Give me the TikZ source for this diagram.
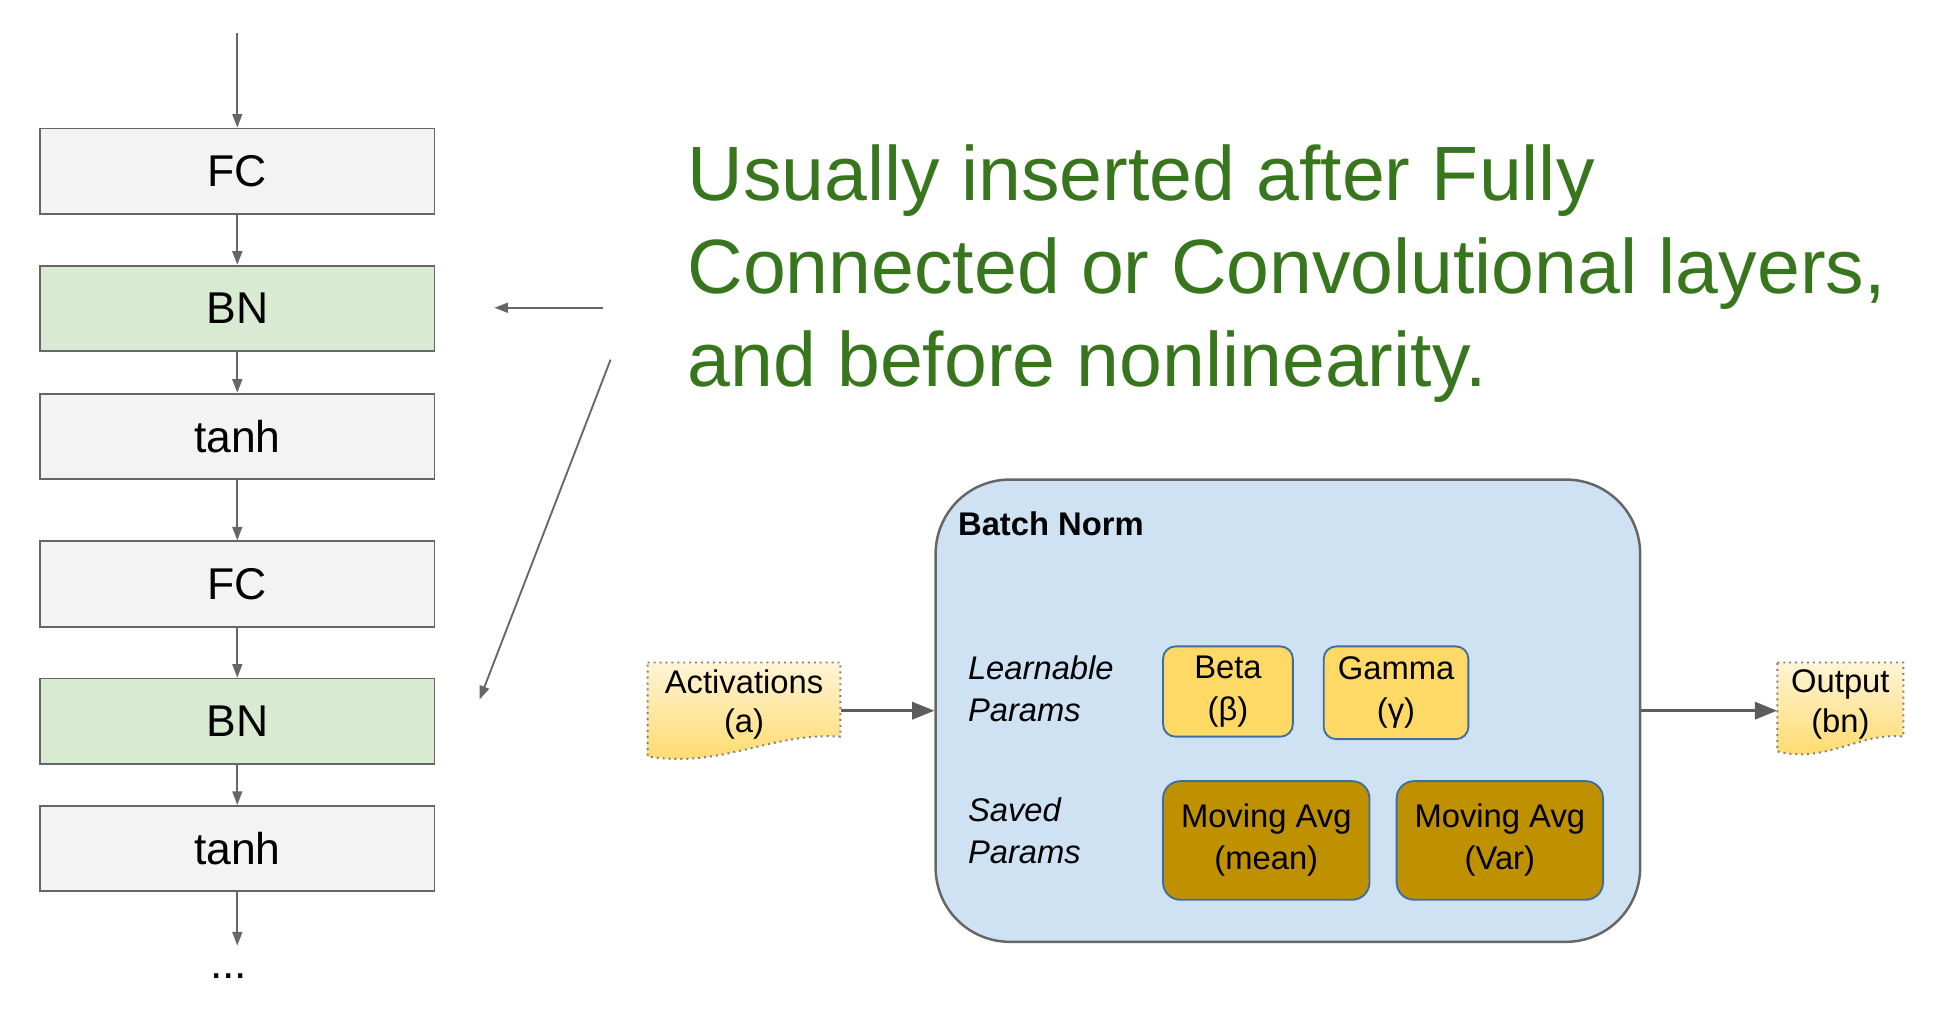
\documentclass[tikz,border=0pt]{standalone}
\usepackage{fontspec}
\setmainfont{Liberation Sans}
\usetikzlibrary{arrows.meta,positioning,calc}

\definecolor{boxgray}{HTML}{F3F3F3}
\definecolor{bngreen}{HTML}{D9EAD3}
\definecolor{linegray}{HTML}{666666}
\definecolor{textgreen}{HTML}{38761D}
\definecolor{bnblue}{HTML}{CFE2F3}
\definecolor{paramyellow}{HTML}{FFD966}
\definecolor{docpale}{HTML}{FFF4D6}
\definecolor{savedgold}{HTML}{BF9000}
\definecolor{paramedge}{HTML}{3D6E9E}
\definecolor{docedge}{HTML}{808080}

\tikzset{
  layer/.style={draw=linegray, line width=1.5pt, fill=boxgray, minimum width=319pt,
    minimum height=69pt, inner sep=0pt, font=\fontsize{36}{40}\selectfont},
  bnlayer/.style={layer, fill=bngreen},
  flow/.style={draw=linegray, line width=1.5pt, -{Triangle[length=11pt,width=8pt]}},
  feed/.style={draw=linegray!90!black, line width=2pt, -{Triangle[length=18pt,width=14pt]}},
  param/.style={draw=paramedge, line width=1.5pt, rounded corners=10pt, fill=paramyellow,
    align=center, inner sep=0pt, font=\fontsize{26.5}{34}\selectfont},
  saved/.style={param, fill=savedgold, rounded corners=14pt},
  side/.style={align=left, anchor=west, inner sep=0pt, font=\itshape\fontsize{26.5}{34}\selectfont},
  doc/.style={align=center, inner sep=0pt, font=\fontsize{26.5}{32}\selectfont},
  docshape/.style={draw=docedge, line width=1.6pt, dash pattern=on 1.6pt off 3.2pt,
    top color=docpale, bottom color=paramyellow},
}

\begin{document}
\begin{tikzpicture}[x=1pt, y=-1pt]
  \useasboundingbox (0,0) rectangle (1568,820);

  % network stack
  \node[layer]   (fc1)   at (192,138.5) {FC};
  \node[bnlayer] (bn1)   at (192,249.5) {BN};
  \node[layer]   (tanh1) at (192,353)   {tanh};
  \node[layer]   (fc2)   at (192,472.5) {FC};
  \node[bnlayer] (bn2)   at (192,583.5) {BN};
  \node[layer]   (tanh2) at (192,686.5) {tanh};
  \coordinate (input) at (192,27);
  \coordinate (more) at (192,765);
  \node[anchor=base, inner sep=0pt, font=\fontsize{36}{40}\selectfont] (dots) at (185,792) {...};

  \draw[flow] (input) -- (fc1);
  \foreach \a/\b in {fc1/bn1, bn1/tanh1, tanh1/fc2, fc2/bn2, bn2/tanh2}
    \draw[flow] (\a) -- (\b);
  \draw[flow] (tanh2) -- (more);

  % pointers from the note
  \coordinate (cueA) at (488,249);
  \coordinate (tipA) at (400,249);
  \coordinate (cueB) at (494,291);
  \coordinate (tipB) at (388,566);
  \draw[flow] (cueA) -- (tipA);
  \draw[flow] (cueB) -- (tipB);

  \node[anchor=base west, align=left, inner sep=0pt, text=textgreen,
    font=\fontsize{62.3}{75.5}\selectfont] (note) at (556,313)
    {Usually inserted after Fully\\Connected or Convolutional layers,\\and before nonlinearity.};

  % batch norm block
  \node[draw=linegray, line width=2pt, fill=bnblue, rounded corners=60pt,
    minimum width=570pt, minimum height=374pt] (bnbox) at (1042,575) {};
  \node[anchor=west, inner sep=0pt, font=\bfseries\fontsize{26.5}{30}\selectfont] (bntitle) at (775,424) {Batch Norm};

  \node[side] (learn) at (783,557) {Learnable\\Params};
  \node[side] (keep)  at (783,672) {Saved\\Params};

  \node[param, minimum width=105pt, minimum height=73pt] (beta)  at (993.5,559.5)  {Beta\\(β)};
  \node[param, minimum width=117pt, minimum height=75pt] (gamma) at (1129.5,560.5) {Gamma\\(γ)};
  \node[saved, minimum width=167pt, minimum height=96pt] (mean)  at (1024.5,680)   {Moving Avg\\(mean)};
  \node[saved, minimum width=167pt, minimum height=96pt] (var)   at (1213.5,680)   {Moving Avg\\(Var)};

  % input and output documents
  \path[docshape] (524,536) -- (680,536) -- (680,596)
    .. controls (625,592) and (584,622) .. (524,612) -- cycle;
  \path[docshape] (1438,536) -- (1540,536) -- (1540,596)
    .. controls (1505,592) and (1478,618) .. (1438,608) -- cycle;
  \node[doc, minimum width=156pt, minimum height=68pt] (act)  at (602,570)  {Activations\\(a)};
  \node[doc, minimum width=102pt, minimum height=68pt] (outp) at (1489,570) {Output\\(bn)};

  \draw[feed] (act.east |- bnbox.west) -- (bnbox.west);
  \draw[feed] (bnbox.east) -- (outp.west |- bnbox.east);
\end{tikzpicture}
\end{document}
